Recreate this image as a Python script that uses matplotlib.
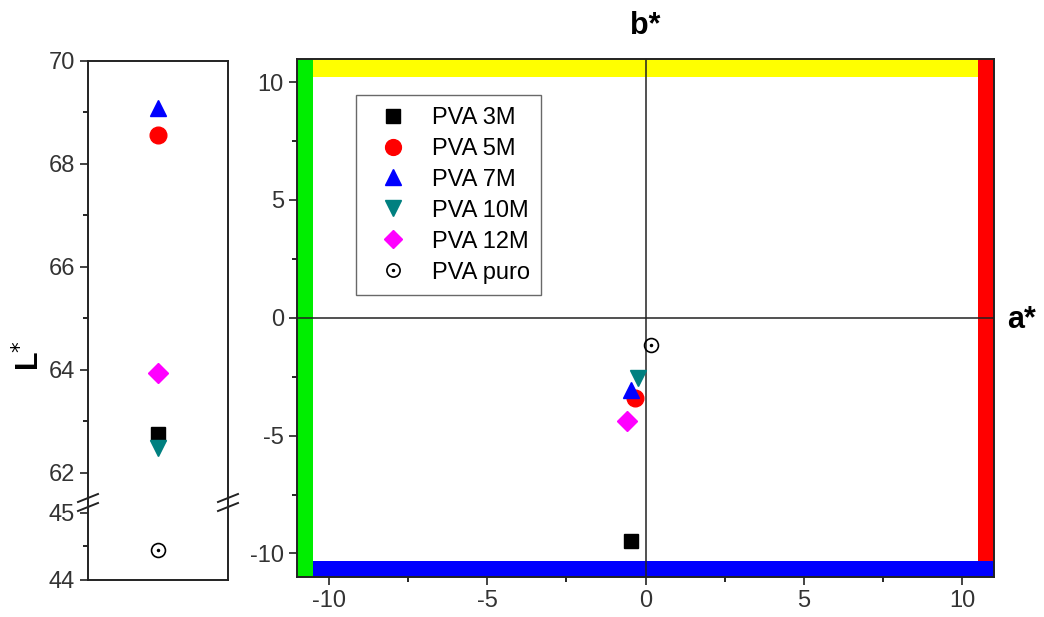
import matplotlib
matplotlib.use("Agg")
import matplotlib.pyplot as plt
from matplotlib.legend_handler import HandlerTuple
from matplotlib.patches import Rectangle

plt.rcParams['font.family'] = ['Liberation Sans', 'DejaVu Sans']
plt.rcParams['axes.unicode_minus'] = False

# ---------------- data ----------------
labels = ["PVA 3M", "PVA 5M", "PVA 7M", "PVA 10M", "PVA 12M", "PVA puro"]
a_star = [-0.47, -0.32, -0.45, -0.24, -0.59, 0.18]
b_star = [-9.49, -3.40, -3.08, -2.55, -4.36, -1.16]
L_star = [62.75, 68.56, 69.08, 62.47, 63.93, 44.45]
markers = ["s", "o", "^", "v", "D", "o"]
colors = ["black", "red", "blue", "#008080", "magenta", "black"]
sizes = [10, 12, 12, 12, 10, 10]

W, H = 1044, 617
fig = plt.figure(figsize=(W / 100, H / 100), dpi=100)

def fr(x0, y0, x1, y1):
    return [x0 / W, 1 - y1 / H, (x1 - x0) / W, (y1 - y0) / H]

TICK_FS = 17

# ---------------- left panel (broken axis) ----------------
y_break = 502
axT = fig.add_axes(fr(88, 60.5, 228, y_break))
axB = fig.add_axes(fr(88, y_break, 228, 580))
axT.set_ylim(61.43, 70)
axB.set_ylim(44, 45.16)
for ax in (axT, axB):
    ax.set_xlim(0, 1)
    ax.set_xticks([])
    for s in ax.spines.values():
        s.set_linewidth(1.4)
        s.set_color('#222222')
    ax.tick_params(axis='y', direction='out', length=6, width=1.2,
                   labelsize=TICK_FS, colors='#222222', labelcolor='#333333')
    ax.tick_params(axis='y', which='minor', direction='out', length=3.5, width=1.2)
axT.spines['bottom'].set_visible(False)
axB.spines['top'].set_visible(False)
axT.set_yticks([62, 64, 66, 68, 70])
axT.set_yticks([63, 65, 67, 69], minor=True)
axB.set_yticks([44, 45])
axB.set_yticks([44.5], minor=True)

for i in range(6):
    ax = axB if L_star[i] < 50 else axT
    if i == 5:
        ax.plot(0.5, L_star[i], marker='o', ms=sizes[i], mfc='none', mec='black', mew=1.2, ls='none', clip_on=False)
        ax.plot(0.5, L_star[i], marker='.', ms=3, color='black', ls='none', clip_on=False)
    else:
        ax.plot(0.5, L_star[i], marker=markers[i], ms=sizes[i], color=colors[i], ls='none', clip_on=False)

# break marks
for xp in (88, 228):
    for dy in (-4, 5):
        yc = y_break + dy
        fig.add_artist(plt.Line2D([(xp - 10) / W, (xp + 10) / W],
                                  [1 - (yc + 4) / H, 1 - (yc - 4) / H],
                                  color='#222222', lw=1.4))

fig.text(30 / W, 1 - 355 / H, "L$^{*}$", rotation=90, fontsize=22, fontweight='bold',
         ha='center', va='center')

# ---------------- right panel ----------------
ax = fig.add_axes(fr(297, 58.5, 994, 577))
ax.set_xlim(-11, 11)
ax.set_ylim(-11, 11)
for s in ax.spines.values():
    s.set_linewidth(1.4)
    s.set_color('#222222')
    s.set_zorder(6)
ax.set_xticks([-10, -5, 0, 5, 10])
ax.set_xticks([-7.5, -2.5, 2.5, 7.5], minor=True)
ax.set_yticks([-10, -5, 0, 5, 10])
ax.set_yticks([-7.5, -2.5, 2.5, 7.5], minor=True)
ax.tick_params(direction='out', length=6, width=1.2, labelsize=TICK_FS,
               colors='#222222', labelcolor='#333333')
ax.tick_params(which='minor', direction='out', length=3.5, width=1.2)

# colour bands
ax.add_patch(Rectangle((-10.5, 10.2), 21, 0.8, color='#ffff00', lw=0, zorder=1))
ax.add_patch(Rectangle((10.5, -10.3), 0.5, 21.3, color='#ff0000', lw=0, zorder=1.1))
ax.add_patch(Rectangle((-10.5, -11), 21.5, 0.7, color='#0000ff', lw=0, zorder=1.2))
ax.add_patch(Rectangle((-11, -11), 0.5, 22, color='#00ee00', lw=0, zorder=1.3))

ax.axhline(0, color='#222222', lw=1.1, zorder=2)
ax.axvline(0, color='#222222', lw=1.1, zorder=2)

handles = []
for i in range(6):
    if i == 5:
        h1, = ax.plot(a_star[i], b_star[i], marker='o', ms=sizes[i], mfc='none', mec='black', mew=1.2, ls='none', zorder=4)
        h2, = ax.plot(a_star[i], b_star[i], marker='.', ms=3, color='black', ls='none', zorder=4)
        handles.append((h1, h2))
    else:
        h, = ax.plot(a_star[i], b_star[i], marker=markers[i], ms=sizes[i], color=colors[i], ls='none', zorder=4)
        handles.append(h)

leg = ax.legend(handles, labels, loc='upper left', bbox_to_anchor=((356 - 297) / 697, 1 - (95 - 58.5) / 518.5),
                fontsize=17, frameon=True, fancybox=False, edgecolor='#444444',
                handler_map={tuple: HandlerTuple(ndivide=1)},
                handlelength=2.1, handletextpad=0.6, labelspacing=0.38, borderpad=0.5,
                borderaxespad=0, markerscale=0.95)
leg.get_frame().set_linewidth(1.0)
leg.set_zorder(5)

fig.text(645 / W, 1 - 26 / H, "b*", fontsize=22, fontweight='bold', ha='center', va='center')
fig.text(1021 / W, 1 - 320 / H, "a*", fontsize=22, fontweight='bold', ha='center', va='center')

fig.savefig("out.png", dpi=100)
